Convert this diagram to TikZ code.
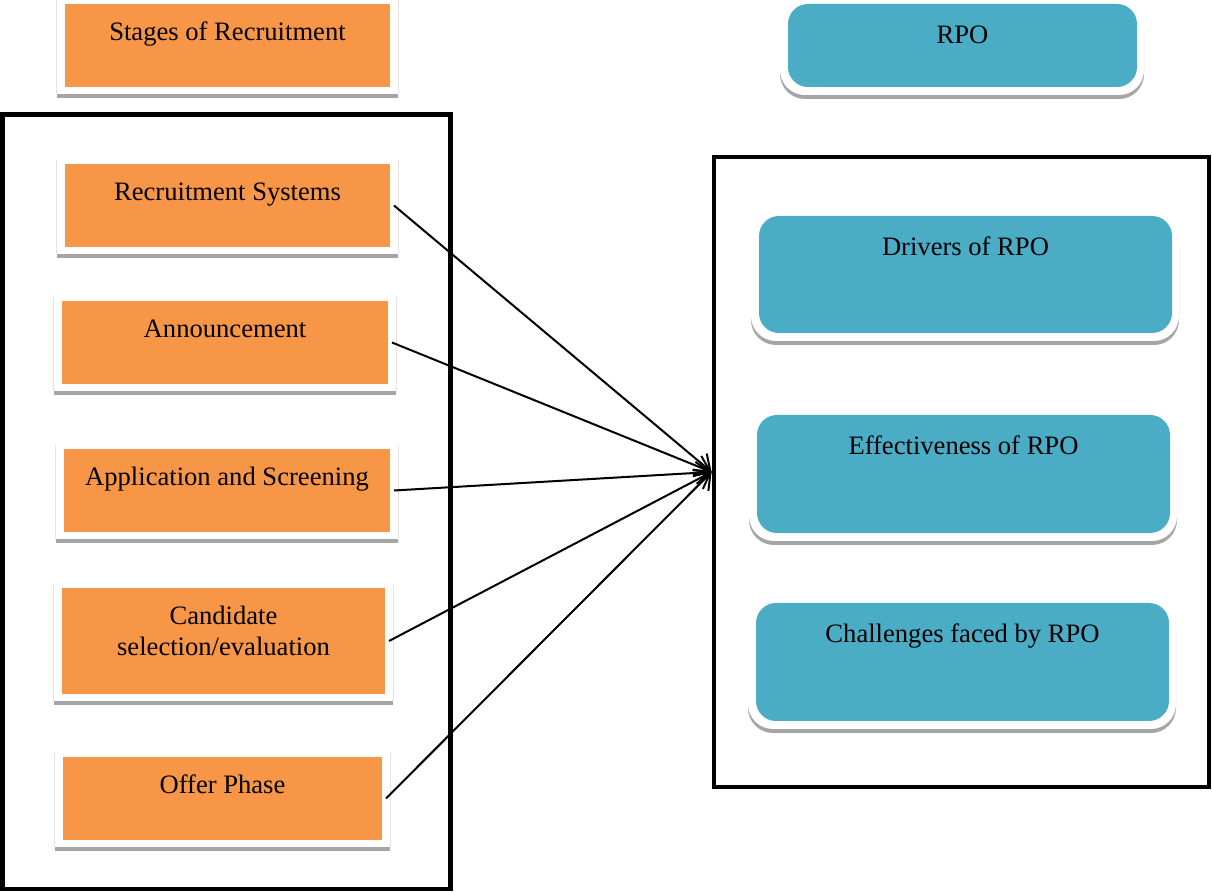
\documentclass[tikz,border=0pt]{standalone}
\usepackage{fontspec}
\setmainfont{Liberation Serif}
\usetikzlibrary{fit,arrows.meta}
\definecolor{orangeF}{HTML}{F79646}
\definecolor{tealF}{HTML}{4BACC6}
\definecolor{shadowG}{HTML}{A5A5A5}
\definecolor{edgeG}{HTML}{E3E3E3}
\tikzset{
  obox/.style={fill=orangeF, inner sep=0pt, outer sep=0pt},
  tbox/.style={fill=tealF, inner sep=0pt, outer sep=0pt, rounded corners=10pt},
  owrap/.style={fill=white, inner sep=0pt},
  wrapedge/.style={draw=edgeG, line width=0.5pt},
  twrap/.style={fill=white, inner sep=0pt, rounded corners=12.5pt},
  shadowbox/.style={fill=shadowG, inner sep=0pt},
  bigframe/.style={draw=black, line width=2.4pt, inner sep=0pt},
  lbl/.style={font=\fontsize{13.3}{15.5}\selectfont, anchor=base, inner sep=0pt},
  arr/.style={-{Straight Barb[length=7pt,width=11pt]}, line width=1pt},
}
% #1 name, #2 x1, #3 y1, #4 x2, #5 y2, #6 text
\newcommand\orangebox[6]{%
  \node[shadowbox, fit={(#2-8,#3-2)(#4+8,#5+11)}] (#1s) {};
  \node[owrap, fit={(#2-8,#3-6)(#4+8,#5+7)}] (#1w) {};
  \draw[wrapedge] ([yshift=-1pt]#1w.north west) -- (#1w.south west);
  \draw[wrapedge] ([yshift=-1pt]#1w.north east) -- (#1w.south east);
  \node[obox, fit={(#2,#3)(#4,#5)}] (#1) {};
  \node[lbl] (#1t) at ([yshift=-18.5pt]#1.north) {#6};
}
\newcommand\tealbox[6]{%
  \node[twrap, fill=shadowG, fit={(#2-8,#3+4)(#4+7,#5+12)}] (#1s) {};
  \node[twrap, fit={(#2-8,#3)(#4+7,#5+8)}] (#1w) {};
  \node[tbox, fit={(#2,#3)(#4,#5)}] (#1) {};
  \node[lbl] (#1t) at ([yshift=-20pt]#1.north) {#6};
}
\begin{document}
\begin{tikzpicture}[x=0.5pt, y=-0.5pt]
\useasboundingbox (0,0) rectangle (1212,892);
% big frames
\node[bigframe, fit={(2.5,114.5)(450.5,889)}] (lf) {};
\node[bigframe, fit={(714,157)(1209,787)}] (rf) {};
% headers
\orangebox{s0}{65}{4}{390}{87}{Stages of Recruitment}
\tealbox{rpo}{788}{4}{1137}{87}{RPO}
% stages
\orangebox{b1}{65}{164}{390}{247}{Recruitment Systems}
\orangebox{b2}{62}{301}{388}{384}{Announcement}
\orangebox{b3}{64}{449}{390}{532}{Application and Screening}
\orangebox{b4}{62}{588}{385}{694}{\begin{tabular}[t]{@{}c@{}}Candidate\\selection/evaluation\end{tabular}}
\orangebox{b5}{63}{757}{382}{840}{Offer Phase}
% RPO aspects
\tealbox{d1}{759}{216}{1172}{333}{Drivers of RPO}
\tealbox{d2}{757}{415}{1170}{533}{Effectiveness of RPO}
\tealbox{d3}{756}{603}{1169}{721}{Challenges faced by RPO}
% arrows
\draw[arr] ([xshift=2pt]b1.east) -- (rf.west);
\draw[arr] ([xshift=2pt]b2.east) -- (rf.west);
\draw[arr] ([xshift=2pt]b3.east) -- (rf.west);
\draw[arr] ([xshift=2pt]b4.east) -- (rf.west);
\draw[arr] ([xshift=2pt]b5.east) -- (rf.west);
\end{tikzpicture}
\end{document}
